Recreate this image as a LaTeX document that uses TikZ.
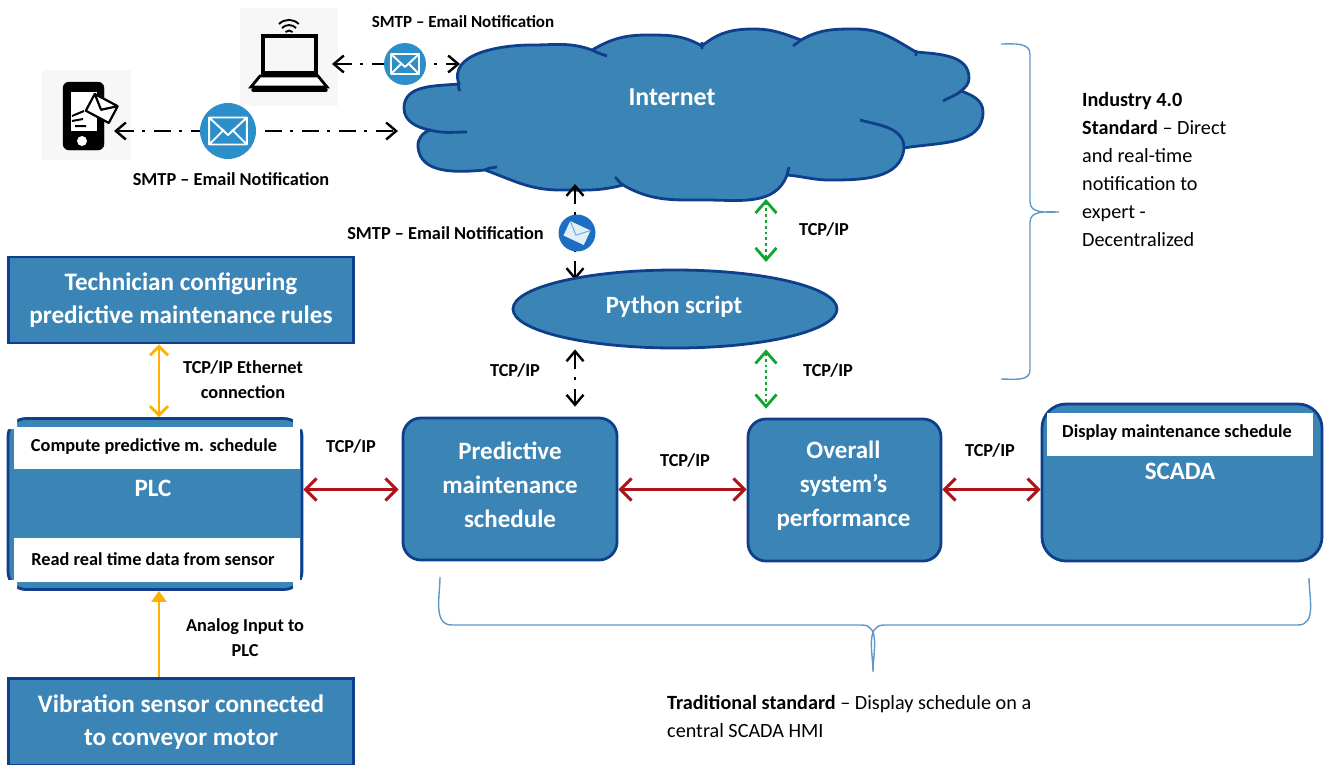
\documentclass[tikz,border=0pt]{standalone}
\usepackage{fontspec}
\setmainfont{Carlito}
\usetikzlibrary{arrows.meta, shapes.geometric}
\definecolor{boxfill}{HTML}{3B85B6}
\definecolor{boxline}{HTML}{0F3F8C}
\definecolor{mailblue}{HTML}{2C8FC9}
\definecolor{maildark}{HTML}{1B6EC2}
\definecolor{bracecol}{HTML}{5F97C6}
\definecolor{redarr}{HTML}{B01218}
\definecolor{orangearr}{HTML}{FFB000}
\definecolor{greenarr}{HTML}{0DA62F}
\tikzset{ blk/.style = { draw = boxline
                       , fill = boxfill
                       , line width = 2.8pt
                       , text = white
                       , align = center
                       , inner sep = 0pt
                       , font = \fontsize{25.2}{33}\selectfont\bfseries
                       },
          rnd/.style = { blk
                       , rounded corners = 18pt
                       },
          onbox/.style = { text = white
                         , align = center
                         , inner sep = 0pt
                         , font = \fontsize{25}{34}\selectfont\bfseries
                         },
          band/.style = { fill = white
                        , inner sep = 0pt
                        },
          lbl/.style = { align = center
                       , inner sep = 0pt
                       , font = \fontsize{18.3}{25}\selectfont\bfseries
                       },
          slbl/.style = { lbl
                        , font = \fontsize{17}{25}\selectfont\bfseries
                        },
          note/.style = { align = left
                        , anchor = west
                        , inner sep = 0pt
                        , font = \fontsize{20.2}{28}\selectfont
                        },
          mail/.style = { circle
                        , fill = mailblue
                        , inner sep = 0pt
                        },
          icon/.style = { fill = black!3
                        , inner sep = 0pt
                        },
          smtp/.style = { {Straight Barb[length=10pt,width=17pt]}-{Straight Barb[length=10pt,width=17pt]}
                        , line width = 2.4pt
                        , dash pattern = on 17pt off 8pt on 3pt off 9pt
                        },
          rlink/.style = { {Straight Barb[length=11pt,width=22pt]}-{Straight Barb[length=11pt,width=22pt]}
                         , draw = redarr
                         , line width = 3pt
                         },
          glink/.style = { {Straight Barb[length=12pt,width=21pt]}-{Straight Barb[length=12pt,width=21pt]}
                         , draw = greenarr
                         , line width = 2.8pt
                         , dash pattern = on 2.8pt off 3pt
                         },
          olink/.style = { draw = orangearr
                         , line width = 2.8pt
                         },
          brace/.style = { draw = bracecol
                         , line width = 1.4pt
                         },
          envlp/.pic = { \draw[white, line width = 1.9pt, line join = round]
                         (-14,-10) rectangle (14,10)
                         (-14,-10) -- (0,3) -- (14,-10)
                         (-14,10) -- (-3,-1) (14,10) -- (3,-1);
                       },
          envlpb/.pic = { \fill[white!85!mailblue] (-14,-10) rectangle (14,10);
                          \draw[maildark!60, line width = 1pt]
                          (-14,-10) -- (0,3) -- (14,-10);
                        }
        }
\begin{document}
\begin{tikzpicture}[x=1pt, y=-1pt]
    \useasboundingbox (0,0) rectangle (1325,764);

    % cloud
    \path[draw=boxline, fill=boxfill, line width=2.8pt, line join=round]
        (459,84) to[out=110,in=180] (532,45) to[out=0,in=160] (592,50)
        to[out=30,in=180] (647,35) to[out=0,in=150] (702,46)
        to[out=40,in=180] (754,29) to[out=0,in=160] (801,40)
        to[out=30,in=180] (856,29) to[out=0,in=150] (916,52)
        to[out=-5,in=90] (969,78) to[out=-90,in=40] (961,91)
        to[out=-20,in=90] (983,112) to[out=-90,in=10] (904,148)
        to[out=-95,in=0] (830,180) to[out=180,in=-5] (787,175)
        to[out=-110,in=0] (706,200) to[out=180,in=-30] (623,185)
        to[out=195,in=0] (560,190) to[out=180,in=-20] (485,170)
        to[out=185,in=-85] (418,147) to[out=95,in=200] (430,130)
        to[out=170,in=-90] (404,108) to[out=90,in=185] (459,84) -- cycle;
    \draw[boxline, line width=2.8pt]
        (592,50) to[out=-30,in=160] (607,56)
        (702,42) -- (702,49)
        (801,40) -- (793,46)
        (916,50) -- (916,56)
        (961,91) to[out=220,in=30] (943,101)
        (860,120) to[out=-15,in=90] (904,148)
        (789,167) -- (787,175)
        (623,185) to[out=150,in=-40] (615,177)
        (485,170) to[out=30,in=190] (497,167)
        (430,130) to[out=-15,in=180] (467,132)
        (459,84) to[out=-90,in=150] (460,91);
    \node[onbox, font=\fontsize{25.8}{28}\selectfont\bfseries] (internet) at (672,97) {Internet};

    % laptop icon
    \node[icon, minimum width=98pt, minimum height=98pt] (laptop) at (289,57) {};
    \draw[line width=3.6pt] (263,36) rectangle (316,73);
    \draw[line width=2.8pt, fill=white] (260,76) -- (318,76) -- (327,87) -- (251,87) -- cycle;
    \draw[line width=3.4pt, line cap=round] (253,90) -- (326,90);
    \draw[line width=1.9pt] (285.5,32) arc[start angle=135, end angle=45, radius=5pt]
                            (282,28) arc[start angle=135, end angle=45, radius=10pt]
                            (279,24) arc[start angle=135, end angle=45, radius=14pt];

    % phone icon
    \node[icon, minimum width=89pt, minimum height=90pt] (phone) at (86,115) {};
    \draw[fill=black, rounded corners=6pt] (63,82) rectangle (104,150);
    \fill[white] (71,92) rectangle (97,131);
    \fill[white] (82,141) circle[radius=5pt];
    \draw[line width=2.2pt, fill=white, rotate around={-28:(102,108)}, line join=round]
        (89,99) rectangle (115,118) (89,99) -- (102,110) -- (115,99);
    \draw[line width=2pt] (72,116) -- (84,111) (72,121) -- (83,119) (75,126) -- (86,126);

    % connectors to the cloud
    \coordinate (lapR)  at (332,64);
    \coordinate (cloudA) at (460,64);
    \coordinate (phoR)  at (114,131);
    \coordinate (cloudB) at (398,131);
    \coordinate (cloudC) at (575,184);
    \coordinate (pyC)   at (575,280);
    \coordinate (cloudD) at (766,199);
    \coordinate (pyD)   at (766,262);
    \coordinate (colB)  at (575,0);
    \coordinate (colG)  at (766,0);
    \coordinate (rowR)  at (0,489.5);
    \coordinate (colO)  at (159,0);
    \draw[smtp] (lapR) -- (cloudA);
    \draw[smtp] (phoR) -- (cloudB);
    \draw[smtp] (cloudC) -- (pyC);
    \draw[glink] (cloudD) -- (pyD);

    \node[mail, minimum size=42pt] (mailA) at (405,64) {};
    \pic at (mailA) {envlp};
    \node[mail, minimum size=56pt] (mailB) at (228,131) {};
    \pic[scale=1.35] at (mailB) {envlp};
    \node[mail, fill=maildark, minimum size=37pt] (mailC) at (577,233) {};
    \pic[scale=0.8, rotate=-25] at (mailC) {envlpb};

    \node[slbl] (smtpA) at (463,22) {SMTP – Email Notification};
    \node[lbl] (smtpB) at (231,179) {SMTP – Email Notification};
    \node[lbl] (smtpC) at (445.5,233) {SMTP – Email Notification};

    % python script
    \node[blk, ellipse, minimum width=324pt, minimum height=78pt] (python) at (675,309) {};
    \node[onbox, font=\fontsize{24.8}{28}\selectfont\bfseries] (pylabel) at (674,307) {Python script};

    % left column
    \node[blk, minimum width=345pt, minimum height=86pt] (tech) at (181,300) {Technician configuring\\predictive maintenance rules};
    \node[rnd, minimum width=294pt, minimum height=171pt] (plc) at (155,504) {};
    \node[band, minimum width=286pt, minimum height=42pt] (compute) at (157,448) {};
    \node[band, minimum width=286pt, minimum height=44pt] (readdata) at (157,560) {};
    \fill[white] (5,414) rectangle (17,429) (293,414) rectangle (306,429)
                 (5,580) rectangle (17,594) (293,580) rectangle (306,594);
    \node[lbl] at (154,446.5) {Compute predictive m. schedule};
    \node[lbl] at (153,559) {Read real time data from sensor};
    \node[onbox] (plclabel) at (153,488) {PLC};
    \node[blk, minimum width=345pt, minimum height=87pt] (sensor) at (181,722) {Vibration sensor connected\\to conveyor motor};

    % middle row
    \node[rnd, minimum width=214pt, minimum height=142pt] (pred) at (510,489) {};
    \node[onbox] (predtxt) at (510,484.5) {Predictive\\maintenance\\schedule};
    \node[rnd, minimum width=193pt, minimum height=142pt] (perf) at (844.5,490) {};
    \node[onbox] (perftxt) at (843.5,485.5) {Overall\\system’s\\performance};
    \node[rnd, rounded corners=24pt, minimum width=280pt, minimum height=157pt] (scada) at (1182,482.5) {};
    \node[band, minimum width=266pt, minimum height=43pt] (dispbox) at (1180,434.5) {};
    \node[lbl] at (1177,433) {Display maintenance schedule};
    \node[onbox] (scadalabel) at (1180,471) {SCADA};

    \draw[rlink, shorten >=3pt] (plc.east |- rowR) -- (pred.west |- rowR);
    \draw[rlink] (pred.east |- rowR) -- (perf.west |- rowR);
    \draw[rlink] (perf.east |- rowR) -- (scada.west |- rowR);
    \draw[smtp, shorten >=10pt] (python.south -| colB) -- (pred.north -| colB);
    \draw[glink, shorten >=9pt] (python.south -| colG) -- (perf.north -| colG);

    \draw[olink, {Straight Barb[length=9pt,width=18pt]}-{Straight Barb[length=9pt,width=18pt]}] (tech.south -| colO) -- (plc.north -| colO);
    \draw[olink, -{Triangle[length=11pt,width=15pt]}] (sensor.north -| colO) -- (plc.south -| colO);

    \node[lbl] (tcpA) at (243,380) {TCP/IP Ethernet\\connection};
    \node[lbl] (tcpB) at (245,638) {Analog Input to\\PLC};
    \node[lbl] (tcpC) at (351,446) {TCP/IP};
    \node[lbl] (tcpD) at (685,460) {TCP/IP};
    \node[lbl] (tcpE) at (990,450) {TCP/IP};
    \node[lbl] (tcpF) at (515,370) {TCP/IP};
    \node[lbl] (tcpG) at (828,370) {TCP/IP};
    \node[lbl] (tcpH) at (824,229) {TCP/IP};

    % braces
    \draw[brace] (1001,44) to[out=0,in=90] (1030,54) -- (1030,202) to[out=-90,in=180] (1059,212)
                 to[out=180,in=90] (1030,222) -- (1030,370) to[out=-90,in=0] (1001,379);
    \draw[brace] (440,577) to[out=-90,in=180] (452,625) -- (862,625) to[out=0,in=90] (873,672)
                 to[out=90,in=180] (884,625) -- (1298,625) to[out=0,in=-90] (1309,578);

    \node[note] (indus) at (1082,169) {\textbf{Industry 4.0}\\\textbf{Standard} – Direct\\and real-time\\notification to\\expert -\\Decentralized};
    \node[note] (trad) at (667,716) {\textbf{Traditional standard} – Display schedule on a\\central SCADA HMI};
\end{tikzpicture}
\end{document}
